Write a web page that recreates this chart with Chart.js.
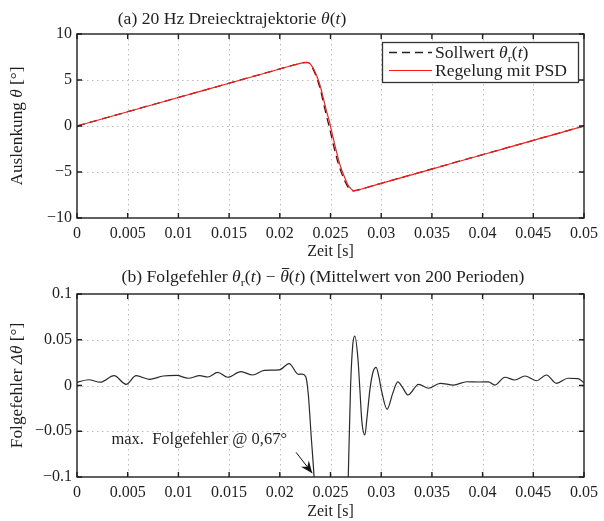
<!DOCTYPE html>
<html>
<head>
<meta charset="utf-8">
<script src="https://cdn.jsdelivr.net/npm/chart.js@4/dist/chart.umd.min.js"></script>
<style>
  html, body { margin: 0; padding: 0; background: #fff; }
  #wrap { position: relative; width: 604px; height: 521px; }
  .pane { position: absolute; left: 0; width: 604px; }
</style>
</head>
<body>
<div id="wrap">
  <div class="pane" style="top:0;height:260px"><canvas id="c1" width="604" height="260"></canvas></div>
  <div class="pane" style="top:260px;height:261px"><canvas id="c2" width="604" height="261"></canvas></div>
</div>
<script>
// ---- data: (a) 20 Hz triangle trajectory ----
const trajTime = [0, 0.005, 0.01, 0.015, 0.02, 0.0215, 0.022, 0.0225, 0.0228, 0.0231, 0.0234,
  0.0237, 0.024, 0.0243, 0.0246, 0.0249, 0.0252, 0.0255, 0.0258, 0.0261, 0.0264, 0.0267,
  0.027, 0.0273, 0.0276, 0.028, 0.03, 0.035, 0.04, 0.045, 0.05];
const thetaRef = [0, 1.55, 3.1, 4.65, 6.2, 6.66, 6.8, 6.9, 6.88, 6.55, 5.9, 5.05, 3.95, 2.55,
  1.1, -0.2, -1.65, -3.0, -4.2, -5.15, -5.95, -6.6, -6.95, -7.05, -6.98, -6.86, -6.23,
  -4.67, -3.11, -1.56, 0];
const thetaPSD = [0, 1.55, 3.1, 4.65, 6.2, 6.66, 6.8, 6.9, 6.92, 6.62, 6.07, 5.3, 4.3, 3.0,
  1.65, 0.45, -1.0, -2.4, -3.7, -4.75, -5.6, -6.35, -6.8, -7.05, -7.0, -6.88, -6.24,
  -4.68, -3.12, -1.57, 0];

// ---- data: (b) tracking error, mean of 200 periods ----
const errTime = [0, 0.00115, 0.0023, 0.00366, 0.00484, 0.00583, 0.00714, 0.00851, 0.00982,
  0.01097, 0.01211, 0.0129, 0.01388, 0.01486, 0.01617, 0.01732, 0.01847, 0.01994, 0.02092,
  0.02184, 0.0222, 0.02256, 0.0228, 0.0231, 0.02338, 0.0237, 0.0242, 0.0247, 0.0251, 0.0255,
  0.0259, 0.0263, 0.02655, 0.02675, 0.02698, 0.0272, 0.0274, 0.0277, 0.0279, 0.0281, 0.02839,
  0.0286, 0.02888, 0.0292, 0.0295, 0.0298, 0.03002, 0.03058, 0.03114, 0.03163, 0.0321,
  0.03264, 0.03369, 0.03467, 0.03582, 0.03713, 0.03844, 0.0396, 0.04057, 0.04122, 0.0422,
  0.04318, 0.04417, 0.04531, 0.0463, 0.04728, 0.04843, 0.04941, 0.05];
const errValue = [0.0035, 0.0063, 0.0036, 0.0107, 0.0013, 0.0107, 0.0068, 0.0104, 0.011,
  0.0079, 0.0107, 0.0093, 0.0144, 0.009, 0.0151, 0.0115, 0.0166, 0.017, 0.024,
  0.0122, 0.0125, 0.0096, -0.0085, -0.056, -0.1, -0.17, -0.35, -0.55, -0.67, -0.62,
  -0.48, -0.28, -0.17, -0.1, -0.001, 0.045, 0.054, 0.03, -0.005, -0.04, -0.054,
  -0.035, -0.005, 0.015, 0.0199, 0.008, -0.005, -0.026, -0.0085, 0.004, -0.002,
  -0.0104, 0.0013, -0.003, 0.0024, 0.0005, 0.0041, 0.0038, 0.004, 0.0005, 0.009,
  0.006, 0.0104, 0.0052, 0.0115, 0.0024, 0.0079, 0.0075, 0.003];

// ---- ticks ----
const xTicks = [0, 0.005, 0.01, 0.015, 0.02, 0.025, 0.03, 0.035, 0.04, 0.045, 0.05];
const xTickLabels = ['0', '0.005', '0.01', '0.015', '0.02', '0.025', '0.03', '0.035', '0.04', '0.045', '0.05'];
const yTicksA = [-10, -5, 0, 5, 10];
const yTickLabelsA = ['\u221210', '\u22125', '0', '5', '10'];
const yTicksB = [-0.1, -0.05, 0, 0.05, 0.1];
const yTickLabelsB = ['\u22120.1', '\u22120.05', '0', '0.05', '0.1'];

const FONT = '"Liberation Serif", "Times New Roman", serif';
const INK = '#1e1e1e';

// draws a run of text pieces with italic / subscript / overline styling
function drawRich(ctx, segs, x, y, opts) {
  const size = opts.size || 16, sx = opts.sx || 1, align = opts.align || 'left';
  ctx.save();
  ctx.translate(x, y);
  if (opts.angle) ctx.rotate(opts.angle);
  ctx.scale(sx, 1);
  const parts = segs.map(s => {
    const fs = s.sub ? size * 0.7 : size;
    const font = (s.i ? 'italic ' : '') + fs + 'px ' + FONT;
    ctx.font = font;
    return { s, font, fs, w: ctx.measureText(s.t).width };
  });
  const total = parts.reduce((a, p) => a + p.w, 0);
  let cx = align === 'center' ? -total / 2 : align === 'right' ? -total : 0;
  ctx.fillStyle = opts.color || INK;
  ctx.textBaseline = 'alphabetic';
  ctx.textAlign = 'left';
  for (const p of parts) {
    ctx.font = p.font;
    const dy = p.s.sub ? size * 0.22 : 0;
    ctx.fillText(p.s.t, cx, dy);
    if (p.s.over) {
      ctx.strokeStyle = opts.color || INK;
      ctx.lineWidth = 1;
      ctx.beginPath();
      ctx.moveTo(cx + 1.5, -size * 0.84);
      ctx.lineTo(cx + p.w + 0.5, -size * 0.84);
      ctx.stroke();
    }
    cx += p.w;
  }
  ctx.restore();
}

// dotted grid below the data, framed box with inward ticks above it
const framePlugin = {
  id: 'frame',
  beforeDatasetsDraw(chart) {
    const { ctx, chartArea: a, scales } = chart;
    ctx.save();
    ctx.strokeStyle = '#bcbcbc';
    ctx.lineWidth = 1;
    ctx.setLineDash([1.5, 3.5]);
    for (const t of scales.x.ticks) {
      const px = Math.round(scales.x.getPixelForValue(t.value)) + 0.5;
      if (px <= a.left + 1 || px >= a.right - 1) continue;
      ctx.beginPath(); ctx.moveTo(px, a.top); ctx.lineTo(px, a.bottom); ctx.stroke();
    }
    for (const t of scales.y.ticks) {
      const py = Math.round(scales.y.getPixelForValue(t.value)) + 0.5;
      if (py <= a.top + 1 || py >= a.bottom - 1) continue;
      ctx.beginPath(); ctx.moveTo(a.left, py); ctx.lineTo(a.right, py); ctx.stroke();
    }
    ctx.restore();
  },
  afterDatasetsDraw(chart) {
    const { ctx, chartArea: a, scales } = chart;
    ctx.save();
    ctx.strokeStyle = INK;
    ctx.lineWidth = 1.4;
    ctx.setLineDash([]);
    const tl = 5;
    ctx.beginPath();
    for (const t of scales.x.ticks) {
      const px = scales.x.getPixelForValue(t.value);
      ctx.moveTo(px, a.bottom); ctx.lineTo(px, a.bottom - tl);
      ctx.moveTo(px, a.top); ctx.lineTo(px, a.top + tl);
    }
    for (const t of scales.y.ticks) {
      const py = scales.y.getPixelForValue(t.value);
      ctx.moveTo(a.left, py); ctx.lineTo(a.left + tl, py);
      ctx.moveTo(a.right, py); ctx.lineTo(a.right - tl, py);
    }
    ctx.stroke();
    ctx.strokeRect(a.left, a.top, a.right - a.left, a.bottom - a.top);
    ctx.restore();
  }
};

function xScale(height) {
  return {
    type: 'linear', min: 0, max: 0.05,
    afterBuildTicks: s => { s.ticks = xTicks.map(v => ({ value: v })); },
    afterFit: s => { s.height = height; },
    grid: { display: false, drawTicks: false },
    border: { display: false },
    ticks: {
      autoSkip: false, maxRotation: 0, padding: 6, color: INK,
      font: { family: FONT, size: 16 },
      callback: (v, i) => xTickLabels[i]
    }
  };
}
function yScale(min, max, vals, labels) {
  return {
    type: 'linear', min, max,
    afterBuildTicks: s => { s.ticks = vals.map(v => ({ value: v })); },
    afterFit: s => { s.width = 77; },
    grid: { display: false, drawTicks: false },
    border: { display: false },
    ticks: {
      autoSkip: false, padding: 5, color: INK,
      font: { family: FONT, size: 16 },
      callback: (v, i) => labels[i]
    }
  };
}

const baseOpts = {
  responsive: false,
  animation: false,
  events: [],
  layout: { padding: { top: 34, right: 18, left: 0, bottom: 0 } },
  elements: { point: { radius: 0 } }
};

// texts and legend of panel (a)
const labelsA = {
  id: 'labelsA',
  afterDraw(chart) {
    const ctx = chart.ctx, a = chart.chartArea;
    drawRich(ctx, [{ t: '(a) 20 Hz Dreiecktrajektorie ' }, { t: '\u03b8', i: 1 }, { t: '(' }, { t: 't', i: 1 }, { t: ')' }],
      232, 24, { align: 'center', sx: 1.1 });
    drawRich(ctx, [{ t: 'Auslenkung ' }, { t: '\u03b8', i: 1 }, { t: ' [\u00b0]' }],
      22, (a.top + a.bottom) / 2, { align: 'center', angle: -Math.PI / 2, sx: 1.08 });
    drawRich(ctx, [{ t: 'Zeit [s]' }], (a.left + a.right) / 2, 256, { align: 'center' });
    // legend
    ctx.save();
    ctx.fillStyle = '#fff';
    ctx.fillRect(382, 42, 197, 41);
    ctx.strokeStyle = '#333'; ctx.lineWidth = 1.3;
    ctx.strokeRect(382.5, 42.5, 196, 40);
    const ds = chart.data.datasets;
    ctx.lineWidth = ds[0].borderWidth; ctx.strokeStyle = ds[0].borderColor;
    ctx.setLineDash(ds[0].borderDash);
    ctx.beginPath(); ctx.moveTo(389, 52.5); ctx.lineTo(432, 52.5); ctx.stroke();
    ctx.setLineDash([]);
    ctx.strokeStyle = ds[1].borderColor; ctx.lineWidth = ds[1].borderWidth;
    ctx.beginPath(); ctx.moveTo(389, 70.5); ctx.lineTo(432, 70.5); ctx.stroke();
    ctx.restore();
    drawRich(ctx, [{ t: ds[0].label + ' ' }, { t: '\u03b8', i: 1 }, { t: 'r', sub: 1 }, { t: '(' }, { t: 't', i: 1 }, { t: ')' }],
      435, 58, { sx: 1.1 });
    drawRich(ctx, [{ t: ds[1].label }], 435, 76, { sx: 1.1 });
  }
};

// texts and annotation of panel (b)
const labelsB = {
  id: 'labelsB',
  afterDraw(chart) {
    const ctx = chart.ctx, a = chart.chartArea, sx = chart.scales.x, sy = chart.scales.y;
    drawRich(ctx, [{ t: '(b) Folgefehler ' }, { t: '\u03b8', i: 1 }, { t: 'r', sub: 1 }, { t: '(' }, { t: 't', i: 1 },
      { t: ') \u2212 ' }, { t: '\u03b8', i: 1, over: 1 }, { t: '(' }, { t: 't', i: 1 }, { t: ') (Mittelwert von 200 Perioden)' }],
      323, 22, { align: 'center', sx: 1.1 });
    drawRich(ctx, [{ t: 'Folgefehler ' }, { t: '\u0394\u03b8', i: 1 }, { t: ' [\u00b0]' }],
      22, (a.top + a.bottom) / 2, { align: 'center', angle: -Math.PI / 2, sx: 1.08 });
    drawRich(ctx, [{ t: 'Zeit [s]' }], (a.left + a.right) / 2, 256, { align: 'center' });
    // annotation of the maximum tracking error
    drawRich(ctx, [{ t: 'max.  Folgefehler @ 0,67\u00b0' }],
      sx.getPixelForValue(0.0034), sy.getPixelForValue(-0.064), { sx: 1.03 });
    const x0 = sx.getPixelForValue(0.0216), y0 = sy.getPixelForValue(-0.073);
    const x1 = sx.getPixelForValue(0.0232), y1 = sy.getPixelForValue(-0.0958);
    const ang = Math.atan2(y1 - y0, x1 - x0);
    ctx.save();
    ctx.strokeStyle = '#111'; ctx.fillStyle = '#111'; ctx.lineWidth = 1;
    ctx.beginPath(); ctx.moveTo(x0, y0); ctx.lineTo(x1, y1); ctx.stroke();
    ctx.translate(x1, y1); ctx.rotate(ang);
    ctx.beginPath();
    ctx.moveTo(0, 0); ctx.lineTo(-12, -5); ctx.lineTo(-8, 0); ctx.lineTo(-12, 5); ctx.closePath();
    ctx.fill();
    ctx.restore();
  }
};

// (a) trajectory
new Chart(document.getElementById('c1'), {
  type: 'line',
  data: {
    datasets: [
      {
        label: 'Sollwert',
        data: trajTime.map((t, i) => ({ x: t, y: thetaRef[i] })),
        borderColor: '#222', borderWidth: 1.3, borderDash: [8, 5],
        cubicInterpolationMode: 'monotone', order: 1
      },
      {
        label: 'Regelung mit PSD',
        data: trajTime.map((t, i) => ({ x: t, y: thetaPSD[i] })),
        borderColor: '#ff1a1a', borderWidth: 1.2,
        cubicInterpolationMode: 'monotone', order: 0
      }
    ]
  },
  options: Object.assign({}, baseOpts, {
    scales: { x: xScale(42), y: yScale(-10, 10, yTicksA, yTickLabelsA) },
    plugins: { legend: { display: false }, tooltip: { enabled: false } }
  }),
  plugins: [framePlugin, labelsA]
});

// (b) tracking error
new Chart(document.getElementById('c2'), {
  type: 'line',
  data: {
    datasets: [{
      label: 'Folgefehler',
      data: errTime.map((t, i) => ({ x: t, y: errValue[i] })),
      borderColor: '#2a2a2a', borderWidth: 1.2,
      cubicInterpolationMode: 'monotone'
    }]
  },
  options: Object.assign({}, baseOpts, {
    scales: { x: xScale(44), y: yScale(-0.1, 0.1, yTicksB, yTickLabelsB) },
    plugins: { legend: { display: false }, tooltip: { enabled: false } }
  }),
  plugins: [framePlugin, labelsB]
});
</script>
</body>
</html>
